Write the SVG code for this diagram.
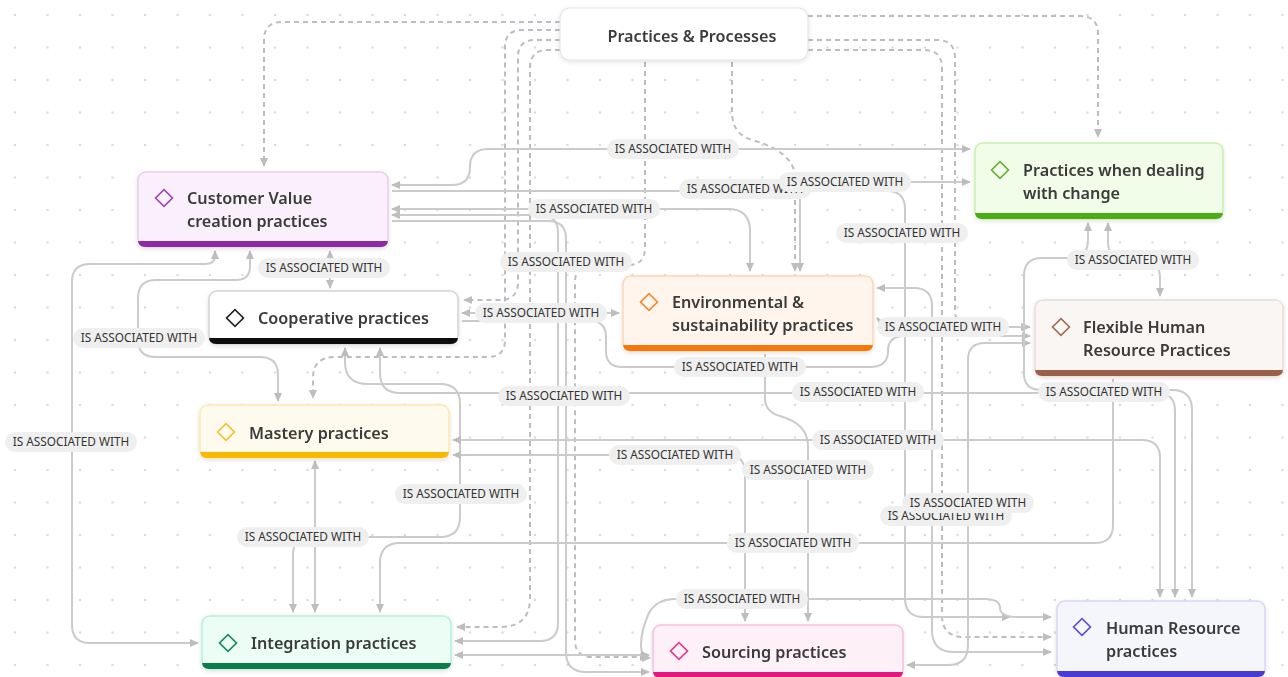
<svg xmlns="http://www.w3.org/2000/svg" width="1288" height="677" viewBox="0 0 1288 677">
  <defs>
    <pattern id="dots" x="15" y="15" width="32.5" height="32.5" patternUnits="userSpaceOnUse">
      <circle cx="0" cy="0" r="1.3" fill="#dadada"/>
      <circle cx="32.5" cy="0" r="1.3" fill="#dadada"/>
      <circle cx="0" cy="32.5" r="1.3" fill="#dadada"/>
      <circle cx="32.5" cy="32.5" r="1.3" fill="#dadada"/>
    </pattern>
    <marker id="arr" viewBox="0 0 10 10" refX="9" refY="5" markerWidth="9" markerHeight="9" markerUnits="userSpaceOnUse" orient="auto-start-reverse">
      <path d="M0,0.5 L10,5 L0,9.5 z" fill="#bdbdbd"/>
    </marker>
    <filter id="shadow" x="-10%" y="-20%" width="120%" height="150%">
      <feDropShadow dx="0" dy="1.5" stdDeviation="2" flood-color="#000" flood-opacity="0.12"/>
    </filter>
    <style>
      .edge { fill: none; stroke: #cbcbcb; stroke-width: 2; }
      .dash { fill: none; stroke: #bcbcc4; stroke-width: 2; stroke-dasharray: 5 4; }
      .end { marker-end: url(#arr); }
      .both { marker-start: url(#arr); marker-end: url(#arr); }
      .lbl rect { fill: #efefef; }
      .lbl text { font-family: "Noto Sans", "Open Sans", sans-serif; font-size: 11.8px; fill: #333; text-anchor: middle; }
      .node text { font-family: "Noto Sans", "Open Sans", sans-serif; font-size: 16.2px; font-weight: 600; fill: #3a3a3a; }
      .icon { fill: none; stroke-width: 1.6; }
    </style>
  </defs>

  <rect width="1288" height="677" fill="#ffffff"/>
  <rect width="1288" height="677" fill="url(#dots)"/>

  <!-- connectors -->
  <g id="connectors">
    <!-- dashed links from Practices & Processes -->
    <path class="dash end" d="M560,22 H282 Q264,22 264,40 V166"/>
    <path class="dash end" d="M560,30 H522 Q505,30 505,47 V340 Q505,357 488,357 H335 Q313,357 313,378 V398"/>
    <path class="dash end" d="M560,40 H535 Q518,40 518,57 V282 Q518,300 500,300 H464"/>
    <path class="dash end" d="M560,50 H548 Q530,50 530,68 V598 Q530,627 500,627 H457"/>
    <path class="dash end" d="M645,62 V248 Q645,265 628,265 H592 Q575,265 575,282 V640 Q575,657 592,657 H648"/>
    <path class="dash end" d="M732,62 V112 Q732,134 752,140 Q795,152 795,178 V271"/>
    <path class="dash end" d="M808,16 H1080 Q1098,16 1098,34 V137"/>
    <path class="dash end" d="M808,40 H937 Q955,40 955,58 V310 Q955,327 972,327 H1029"/>
    <path class="dash end" d="M808,50 H924 Q942,50 942,68 V615 Q942,637 964,637 H1051"/>

    <!-- solid links -->
    <path class="edge both" d="M392,185 H452 Q470,185 470,167 Q470,149 488,149 H970"/>
    <path class="edge end" d="M392,191 H887 Q905,191 905,209 V598 Q905,617 924,617 H1010"/>
    <path class="edge both" d="M800,271 V200 Q800,182 820,182 H970"/>
    <path class="edge both" d="M392,209 H728 Q750,209 750,231 V271"/>
    <path class="edge both" d="M392,215 H540 Q558,215 558,233 V623 Q558,641 540,641 H455"/>
    <path class="edge end" d="M392,221 H548 Q566,221 566,239 V652 Q566,672 586,672 H649"/>
    <path class="edge both" d="M215,251 V256 Q215,264 205,264 H90 Q72,264 72,282 V625 Q72,643 90,643 H198"/>
    <path class="edge both" d="M250,251 V266 Q250,280 236,280 H156 Q138,280 138,298 V340 Q138,357 156,357 H260 Q278,357 278,375 V401"/>
    <path class="edge both" d="M330,251 V288"/>
    <path class="edge both" d="M462,313 H619"/>
    <path class="edge end" d="M462,321 H590 Q606,321 606,337 V351 Q606,367 622,367 H870 Q888,367 888,351 Q888,336 904,336 H1030"/>
    <path class="edge both" d="M345,348 V362 Q345,384 368,384 H440 Q460,384 460,404 V517 Q460,537 440,537 H311 Q293,537 293,555 V612"/>
    <path class="edge both" d="M315,461 V612"/>
    <path class="edge end" d="M1113,379 V525 Q1113,543 1095,543 H400 Q380,543 380,563 V612"/>
    <path class="edge both" d="M380,348 V373 Q380,393 400,393 H1157 Q1175,393 1175,411 V597"/>
    <path class="edge both" d="M453,440 H1142 Q1160,440 1160,458 V597"/>
    <path class="edge both" d="M453,455 H727 Q745,455 745,473 V621"/>
    <path class="edge end" d="M765,354 V398 Q765,412 780,416 Q808,424 808,446 V621"/>
    <path class="edge both" d="M877,288 H914 Q932,288 932,306 V630 Q932,652 954,652 H1051"/>
    <path class="edge both" d="M877,318 Q885,327 900,327 H1030"/>
    <path class="edge both" d="M907,665 H948 Q968,665 968,645 V360 Q968,343 985,343 H1030"/>
    <path class="edge both" d="M1088,223 V240 Q1088,258 1070,258 H1042 Q1024,258 1024,276 V374 Q1024,390 1042,390 H1172 Q1192,390 1192,410 V597"/>
    <path class="edge both" d="M1108,223 V242 Q1108,260 1126,260 H1142 Q1160,260 1160,278 V296"/>
    <path class="edge both" d="M1051,617 H1018 Q1000,617 1000,608 Q1000,599 985,599 H676 Q655,599 648,615 Q641,632 641,645 Q641,658 650,658"/>
    <path class="edge both" d="M455,655 H649"/>
  </g>

  <!-- link labels -->
  <g id="link-labels">
    <g class="lbl"><rect x="607" y="139" width="132" height="20" rx="10"/><text x="673" y="153">IS ASSOCIATED WITH</text></g>
    <g class="lbl"><rect x="679" y="179" width="132" height="20" rx="10"/><text x="745" y="193">IS ASSOCIATED WITH</text></g>
    <g class="lbl"><rect x="779" y="172" width="132" height="20" rx="10"/><text x="845" y="186">IS ASSOCIATED WITH</text></g>
    <g class="lbl"><rect x="528" y="199" width="132" height="20" rx="10"/><text x="594" y="213">IS ASSOCIATED WITH</text></g>
    <g class="lbl"><rect x="836" y="223" width="132" height="20" rx="10"/><text x="902" y="237">IS ASSOCIATED WITH</text></g>
    <g class="lbl"><rect x="258" y="258" width="132" height="20" rx="10"/><text x="324" y="272">IS ASSOCIATED WITH</text></g>
    <g class="lbl"><rect x="500" y="252" width="132" height="20" rx="10"/><text x="566" y="266">IS ASSOCIATED WITH</text></g>
    <g class="lbl"><rect x="1067" y="250" width="132" height="20" rx="10"/><text x="1133" y="264">IS ASSOCIATED WITH</text></g>
    <g class="lbl"><rect x="73" y="328" width="132" height="20" rx="10"/><text x="139" y="342">IS ASSOCIATED WITH</text></g>
    <g class="lbl"><rect x="475" y="303" width="132" height="20" rx="10"/><text x="541" y="317">IS ASSOCIATED WITH</text></g>
    <g class="lbl"><rect x="877" y="317" width="132" height="20" rx="10"/><text x="943" y="331">IS ASSOCIATED WITH</text></g>
    <g class="lbl"><rect x="674" y="357" width="132" height="20" rx="10"/><text x="740" y="371">IS ASSOCIATED WITH</text></g>
    <g class="lbl"><rect x="498" y="386" width="132" height="20" rx="10"/><text x="564" y="400">IS ASSOCIATED WITH</text></g>
    <g class="lbl"><rect x="792" y="382" width="132" height="20" rx="10"/><text x="858" y="396">IS ASSOCIATED WITH</text></g>
    <g class="lbl"><rect x="1038" y="382" width="132" height="20" rx="10"/><text x="1104" y="396">IS ASSOCIATED WITH</text></g>
    <g class="lbl"><rect x="5" y="432" width="132" height="20" rx="10"/><text x="71" y="446">IS ASSOCIATED WITH</text></g>
    <g class="lbl"><rect x="812" y="430" width="132" height="20" rx="10"/><text x="878" y="444">IS ASSOCIATED WITH</text></g>
    <g class="lbl"><rect x="609" y="445" width="132" height="20" rx="10"/><text x="675" y="459">IS ASSOCIATED WITH</text></g>
    <g class="lbl"><rect x="742" y="460" width="132" height="20" rx="10"/><text x="808" y="474">IS ASSOCIATED WITH</text></g>
    <g class="lbl"><rect x="395" y="484" width="132" height="20" rx="10"/><text x="461" y="498">IS ASSOCIATED WITH</text></g>
    <g class="lbl"><rect x="880" y="506" width="132" height="20" rx="10"/><text x="946" y="520">IS ASSOCIATED WITH</text></g>
    <g class="lbl"><rect x="902" y="493" width="132" height="20" rx="10"/><text x="968" y="507">IS ASSOCIATED WITH</text></g>
    <g class="lbl"><rect x="237" y="527" width="132" height="20" rx="10"/><text x="303" y="541">IS ASSOCIATED WITH</text></g>
    <g class="lbl"><rect x="727" y="533" width="132" height="20" rx="10"/><text x="793" y="547">IS ASSOCIATED WITH</text></g>
    <g class="lbl"><rect x="676" y="589" width="132" height="20" rx="10"/><text x="742" y="603">IS ASSOCIATED WITH</text></g>
  </g>

  <!-- nodes -->
  <g id="practices-processes" class="node" filter="url(#shadow)">
    <rect x="560" y="8" width="248" height="52" rx="10" fill="#ffffff" stroke="#e4e4e4" stroke-width="1.2"/>
    <text x="692" y="42" text-anchor="middle">Practices &amp; Processes</text>
  </g>

  <g id="customer-value" class="node" filter="url(#shadow)">
    <rect x="138" y="172" width="250" height="75" rx="8" fill="#f9f0fb" stroke="#e9cdf0" stroke-width="1.5"/>
    <path d="M138,241 H388 V240 Q388,247 381,247 H145 Q138,247 138,240 Z" fill="#8c2ba6"/>
    <rect x="158" y="192" width="12" height="12" transform="rotate(45 164 198)" class="icon" stroke="#9c47b4"/>
    <text x="187" y="204">Customer Value</text>
    <text x="187" y="227">creation practices</text>
  </g>

  <g id="cooperative" class="node" filter="url(#shadow)">
    <rect x="209" y="291" width="249" height="53" rx="8" fill="#ffffff" stroke="#d4d4d4" stroke-width="1.5"/>
    <path d="M209,338 H458 V337 Q458,344 451,344 H216 Q209,344 209,337 Z" fill="#111111"/>
    <rect x="229" y="312" width="12" height="12" transform="rotate(45 235 318)" class="icon" stroke="#222222"/>
    <text x="258" y="324">Cooperative practices</text>
  </g>

  <g id="environmental" class="node" filter="url(#shadow)">
    <rect x="623" y="276" width="250" height="75" rx="8" fill="#fff5ec" stroke="#fbd8b6" stroke-width="1.5"/>
    <path d="M623,345 H873 V344 Q873,351 866,351 H630 Q623,351 623,344 Z" fill="#f5780a"/>
    <rect x="643" y="296" width="12" height="12" transform="rotate(45 649 302)" class="icon" stroke="#f08a30"/>
    <text x="672" y="308">Environmental &amp;</text>
    <text x="672" y="331">sustainability practices</text>
  </g>

  <g id="dealing-with-change" class="node" filter="url(#shadow)">
    <rect x="975" y="143" width="248" height="76" rx="8" fill="#f1fde9" stroke="#c9f1ad" stroke-width="1.5"/>
    <path d="M975,213 H1223 V212 Q1223,219 1216,219 H982 Q975,219 975,212 Z" fill="#4bac12"/>
    <rect x="994" y="164" width="12" height="12" transform="rotate(45 1000 170)" class="icon" stroke="#62b038"/>
    <text x="1023" y="176">Practices when dealing</text>
    <text x="1023" y="199">with change</text>
  </g>

  <g id="flexible-hr" class="node" filter="url(#shadow)">
    <rect x="1035" y="300" width="248" height="76" rx="8" fill="#faf6f3" stroke="#ecdcd2" stroke-width="1.5"/>
    <path d="M1035,370 H1283 V369 Q1283,376 1276,376 H1042 Q1035,376 1035,369 Z" fill="#9c5e48"/>
    <rect x="1055" y="321" width="12" height="12" transform="rotate(45 1061 327)" class="icon" stroke="#a36a55"/>
    <text x="1083" y="333">Flexible Human</text>
    <text x="1083" y="356">Resource Practices</text>
  </g>

  <g id="mastery" class="node" filter="url(#shadow)">
    <rect x="200" y="405" width="249" height="53" rx="8" fill="#fffaee" stroke="#fce9b0" stroke-width="1.5"/>
    <path d="M200,452 H449 V451 Q449,458 442,458 H207 Q200,458 200,451 Z" fill="#f8b900"/>
    <rect x="220" y="426" width="12" height="12" transform="rotate(45 226 432)" class="icon" stroke="#f2c12e"/>
    <text x="249" y="439">Mastery practices</text>
  </g>

  <g id="integration" class="node" filter="url(#shadow)">
    <rect x="202" y="616" width="249" height="53" rx="8" fill="#ecfdf6" stroke="#b3f2dc" stroke-width="1.5"/>
    <path d="M202,663 H451 V662 Q451,669 444,669 H209 Q202,669 202,662 Z" fill="#0b7b4d"/>
    <rect x="222" y="637" width="12" height="12" transform="rotate(45 228 643)" class="icon" stroke="#168a5a"/>
    <text x="251" y="649">Integration practices</text>
  </g>

  <g id="sourcing" class="node" filter="url(#shadow)">
    <rect x="653" y="625" width="250" height="53" rx="8" fill="#fdf0f6" stroke="#f6c0da" stroke-width="1.5"/>
    <path d="M653,672 H903 V671 Q903,678 896,678 H660 Q653,678 653,671 Z" fill="#e5157c"/>
    <rect x="673" y="645" width="12" height="12" transform="rotate(45 679 651)" class="icon" stroke="#e8348a"/>
    <text x="702" y="658">Sourcing practices</text>
  </g>

  <g id="human-resource" class="node" filter="url(#shadow)">
    <rect x="1057" y="601" width="208" height="76" rx="8" fill="#f5f5fc" stroke="#d8d6f4" stroke-width="1.5"/>
    <path d="M1057,671 H1265 V670 Q1265,677 1258,677 H1064 Q1057,677 1057,670 Z" fill="#4a3bd3"/>
    <rect x="1076" y="621" width="12" height="12" transform="rotate(45 1082 627)" class="icon" stroke="#5a4fcf"/>
    <text x="1106" y="634">Human Resource</text>
    <text x="1106" y="657">practices</text>
  </g>
</svg>
